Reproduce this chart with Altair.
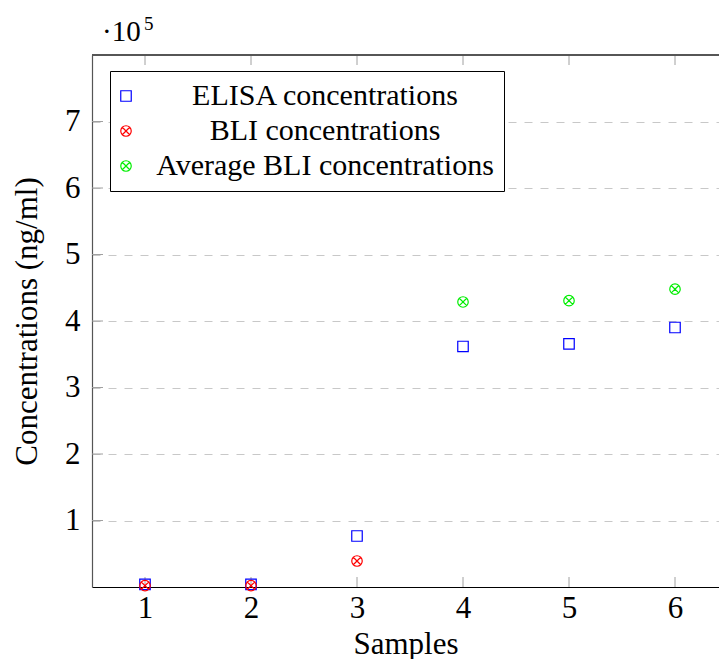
import altair as alt
import pandas as pd

# ---- data ----
series_names = ["ELISA concentrations", "BLI concentrations", "Average BLI concentrations"]
series_colors = ["#0000ff", "#ff0000", "#00ee00"]

elisa_samples = [1, 2, 3, 4, 5, 6]
elisa_values = [4000, 4000, 76700, 361700, 365700, 390200]

bli_samples = [1, 2, 3]
bli_values = [2000, 2000, 39100]

avg_samples = [4, 5, 6]
avg_values = [428600, 430500, 447800]

x_ticks = [1, 2, 3, 4, 5, 6]
y_ticks = [100000, 200000, 300000, 400000, 500000, 600000, 700000]
scale_note = ["·10"]
scale_exp = ["5"]

FONT = "Liberation Serif"
W, H = 627, 532
X_MAX = 0.5 + W / 106.0
OTIMES = ("M-1,0A1,1 0 1,1 1,0A1,1 0 1,1 -1,0Z"
          "M-0.7071,-0.7071L0.7071,0.7071M-0.7071,0.7071L0.7071,-0.7071")

rows = []
for s, v in zip(elisa_samples, elisa_values):
    rows.append({"Sample": s, "Value": v, "Series": series_names[0]})
for s, v in zip(bli_samples, bli_values):
    rows.append({"Sample": s, "Value": v, "Series": series_names[1]})
for s, v in zip(avg_samples, avg_values):
    rows.append({"Sample": s, "Value": v, "Series": series_names[2]})
df = pd.DataFrame(rows)

x_scale = alt.Scale(domain=[0.5, X_MAX], nice=False, zero=False)
y_scale = alt.Scale(domain=[0, 800000], nice=False)

points = alt.Chart(df).mark_point(filled=False, strokeWidth=1.2, size=110, opacity=1).encode(
    x=alt.X("Sample:Q", scale=x_scale,
            axis=alt.Axis(values=x_ticks, format="d", title="Samples", grid=False, ticks=False,
                          tickSize=0, labelFont=FONT, labelFontSize=31, labelColor="black",
                          labelPadding=6, titleFont=FONT, titleFontSize=31,
                          titleFontWeight="normal", titleColor="black",
                          titleBaseline="alphabetic", titleY=66,
                          domainColor="black", domainWidth=1, labelFlush=False)),
    y=alt.Y("Value:Q", scale=y_scale,
            axis=alt.Axis(values=y_ticks, labelExpr="format(datum.value / 100000, 'd')",
                          title="Concentrations (ng/ml)", ticks=False, tickSize=0,
                          grid=True, gridDash=[8, 8], gridColor="#c8c8c8", gridWidth=1,
                          labelFont=FONT, labelFontSize=31, labelColor="black", labelPadding=12,
                          titleFont=FONT, titleFontSize=31, titleFontWeight="normal",
                          titleColor="black", titleBaseline="alphabetic", titleX=-56,
                          domainColor="#555555", domainWidth=1.2, labelFlush=False)),
    color=alt.Color("Series:N", scale=alt.Scale(domain=series_names, range=series_colors),
                    legend=alt.Legend(title=None, orient="none", legendX=18, legendY=16,
                                      strokeColor="black", fillColor="white", padding=10,
                                      labelFont=FONT, labelFontSize=30, labelColor="black",
                                      labelAlign="center", labelOffset=184, labelLimit=0,
                                      symbolOffset=-9,
                                      rowPadding=5, symbolSize=110, symbolStrokeWidth=1.2,
                                      cornerRadius=0)),
    shape=alt.Shape("Series:N", scale=alt.Scale(domain=series_names, range=["square", OTIMES, OTIMES]),
                    legend=None),
)

tick_x = pd.DataFrame({"Sample": x_ticks})
tick_y = pd.DataFrame({"Value": y_ticks})
tick_color = "#a0a0a0"

bottom_ticks = alt.Chart(tick_x).mark_rule(color=tick_color, strokeWidth=1).encode(
    x="Sample:Q", y=alt.value(H), y2=alt.value(H - 10))
top_ticks = alt.Chart(tick_x).mark_rule(color=tick_color, strokeWidth=1).encode(
    x="Sample:Q", y=alt.value(0), y2=alt.value(10))
left_ticks = alt.Chart(tick_y).mark_rule(color=tick_color, strokeWidth=1).encode(
    y="Value:Q", x=alt.value(0), x2=alt.value(11))
top_border = alt.Chart(tick_x).mark_rule(color="#555555", strokeWidth=1.2).encode(
    x=alt.value(0), x2=alt.value(W), y=alt.value(0))

note = alt.Chart(pd.DataFrame({"t": scale_note})).mark_text(
    font=FONT, fontSize=29, align="left", baseline="alphabetic", color="black").encode(
    text="t:N", x=alt.value(10), y=alt.value(-14))
exp = alt.Chart(pd.DataFrame({"t": scale_exp})).mark_text(
    font=FONT, fontSize=19, align="left", baseline="alphabetic", color="black").encode(
    text="t:N", x=alt.value(52), y=alt.value(-25))

chart = alt.layer(
    bottom_ticks, top_ticks, left_ticks, top_border, points, note, exp
).properties(
    width=W, height=H,
    autosize=alt.AutoSizeParams(type="none"),
    padding={"left": 84, "top": 47, "right": 0, "bottom": 72},
    background="white",
).configure_view(stroke=None)

chart.save("out.html", embed_options={"renderer": "svg", "actions": False})
